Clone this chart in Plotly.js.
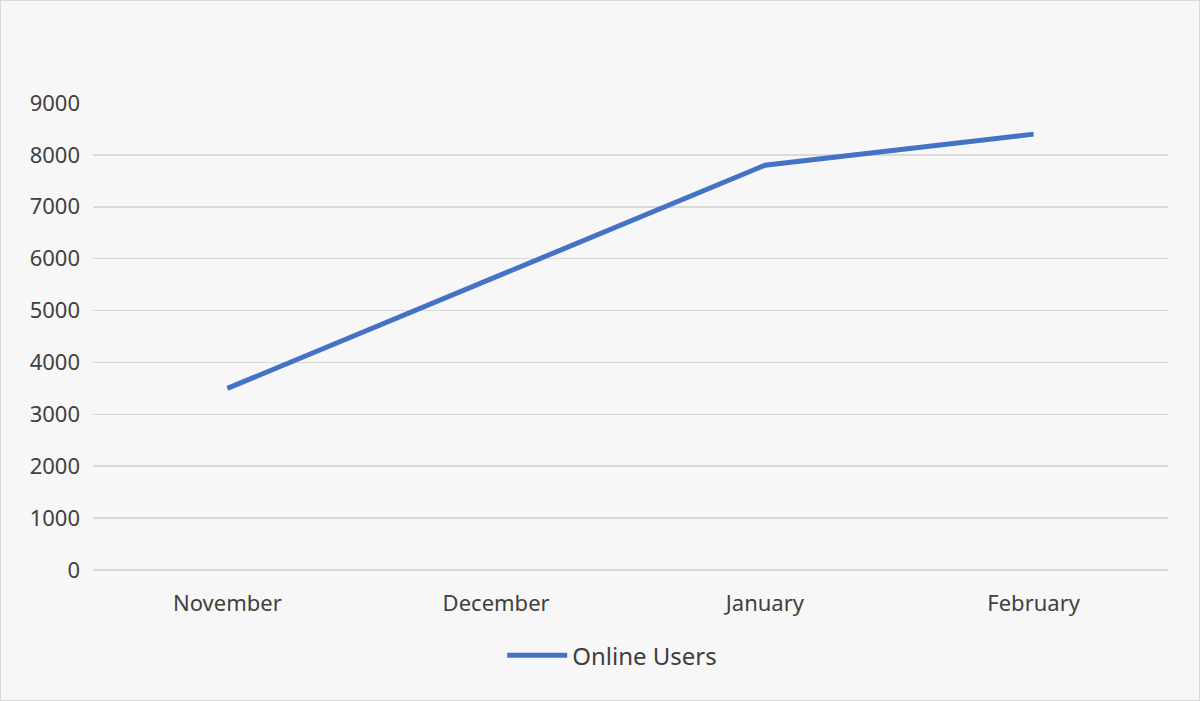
<!DOCTYPE html>
<html>
<head>
<meta charset="utf-8">
<script src="https://cdn.plot.ly/plotly-3.0.1.min.js"></script>
<style>
  html, body { margin: 0; padding: 0; background: #f7f7f7; }
  #chart { width: 1198px; height: 699px; border: 1px solid #d9d9d9; }
</style>
</head>
<body>
<div id="chart"></div>
<script>
const months = ['November', 'December', 'January', 'February'];
const onlineUsers = [3500, 5650, 7800, 8400];
const yTicks = [0, 1000, 2000, 3000, 4000, 5000, 6000, 7000, 8000, 9000];

const trace = {
    x: months,
    y: onlineUsers,
    type: 'scatter',
    mode: 'lines',
    name: 'Online Users',
    line: { color: '#4472c4', width: 5 }
};

const layout = {
    width: 1198,
    height: 699,
    paper_bgcolor: '#f7f7f7',
    plot_bgcolor: '#f7f7f7',
    font: { family: 'Noto Sans, sans-serif', size: 22, color: '#404040' },
    margin: { l: 92, r: 31, t: 102, b: 130 },
    showlegend: true,
    legend: {
        orientation: 'h',
        x: 0.483,
        xanchor: 'center',
        y: -0.135,
        yanchor: 'top',
        itemwidth: 60,
        font: { size: 24, color: '#404040' },
        bgcolor: 'rgba(0,0,0,0)'
    },
    xaxis: {
        type: 'category',
        range: [-0.5, 3.5],
        showgrid: false,
        zeroline: false,
        showline: false,
        ticks: '',
        ticklabelstandoff: 18
    },
    yaxis: {
        range: [0, 9000],
        tickvals: yTicks,
        ticktext: yTicks.map(String),
        showgrid: true,
        gridcolor: '#d9d9d9',
        gridwidth: 1.5,
        zeroline: true,
        zerolinecolor: '#d9d9d9',
        zerolinewidth: 1.5,
        showline: false,
        ticks: '',
        ticklabelstandoff: 12
    }
};

Plotly.newPlot('chart', [trace], layout, { displayModeBar: false, staticPlot: true });
</script>
</body>
</html>
